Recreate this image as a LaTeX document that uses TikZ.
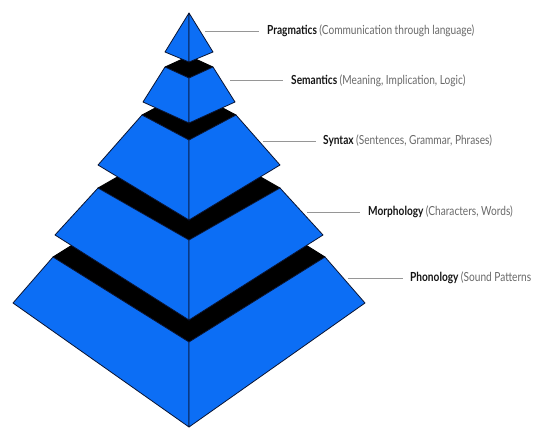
\documentclass[tikz,border=0pt]{standalone}
\usepackage{fontspec}
\setmainfont{Lato}
\newfontfamily\labfont[FakeStretch=0.81]{Lato}
\definecolor{pyrblue}{RGB}{12,110,245}
\definecolor{pyredge}{RGB}{10,20,50}
\definecolor{leadergray}{RGB}{150,150,150}
\definecolor{notegray}{RGB}{105,105,105}
\definecolor{namegray}{RGB}{20,20,20}

% one frustum tier: top half-width, top corner y, front top y,
% bottom half-width, bottom corner y, bottom centre y
\newcommand\pyrtier[6]{%
  \filldraw[topface] ({189-#1},#2) -- (189,{2*#2-#3}) -- ({189+#1},#2) -- (189,#3) -- cycle;
  \filldraw[face] ({189-#4},#5) -- ({189-#1},#2) -- (189,#3) -- (189,#6) -- cycle;
  \filldraw[face] ({189+#4},#5) -- ({189+#1},#2) -- (189,#3) -- (189,#6) -- cycle;
}

\begin{document}
\begin{tikzpicture}[x=1pt,y=-1pt,
  face/.style={fill=pyrblue,draw=pyredge,line width=0.8pt,line join=round},
  topface/.style={fill=black,draw=black,line width=0.8pt,line join=round},
  leaderline/.style={draw=leadergray,line width=0.7pt},
  lab/.style={anchor=west,inner sep=0pt,text=namegray,
    font=\labfont\fontsize{12.5}{14}\selectfont},
  note/.style={text=notegray}]
\useasboundingbox[fill=white] (0,0) rectangle (533,428);

% tiers, bottom first so that upper tiers cover the top faces
\pyrtier{136}{257}{342}{176}{303}{427}
\pyrtier{91}{188}{240}{134}{235}{320}
\pyrtier{47}{115}{140}{91}{165}{220}
\pyrtier{24}{67}{78}{46}{102}{123}
% apex pyramid
\filldraw[face] (165,52) -- (189,13) -- (189,62) -- cycle;
\filldraw[face] (213,52) -- (189,13) -- (189,62) -- cycle;

% labels
\node[lab] (prag) at (267,31) {\bfseries Pragmatics {\mdseries\color{notegray}(Communication through language)}};
\node[lab] (sem) at (291,80.5) {\bfseries Semantics {\mdseries\color{notegray}(Meaning, Implication, Logic)}};
\node[lab] (syn) at (323,141) {\bfseries Syntax {\mdseries\color{notegray}(Sentences, Grammar, Phrases)}};
\node[lab] (morph) at (368,212) {\bfseries Morphology {\mdseries\color{notegray}(Characters, Words)}};
\node[lab] (phon) at (410,278) {\bfseries Phonology {\mdseries\color{notegray}(Sound Patterns}};

\coordinate (pragS) at (205,31);
\coordinate (semS) at (230,80.5);
\coordinate (synS) at (263,141);
\coordinate (morphS) at (307,212);
\coordinate (phonS) at (348,278);

\draw[leaderline] (pragS) -- ([xshift=-8pt]prag.west);
\draw[leaderline] (semS) -- ([xshift=-8pt]sem.west);
\draw[leaderline] (synS) -- ([xshift=-7pt]syn.west);
\draw[leaderline] (morphS) -- ([xshift=-8pt]morph.west);
\draw[leaderline] (phonS) -- ([xshift=-7pt]phon.west);
\end{tikzpicture}
\end{document}
